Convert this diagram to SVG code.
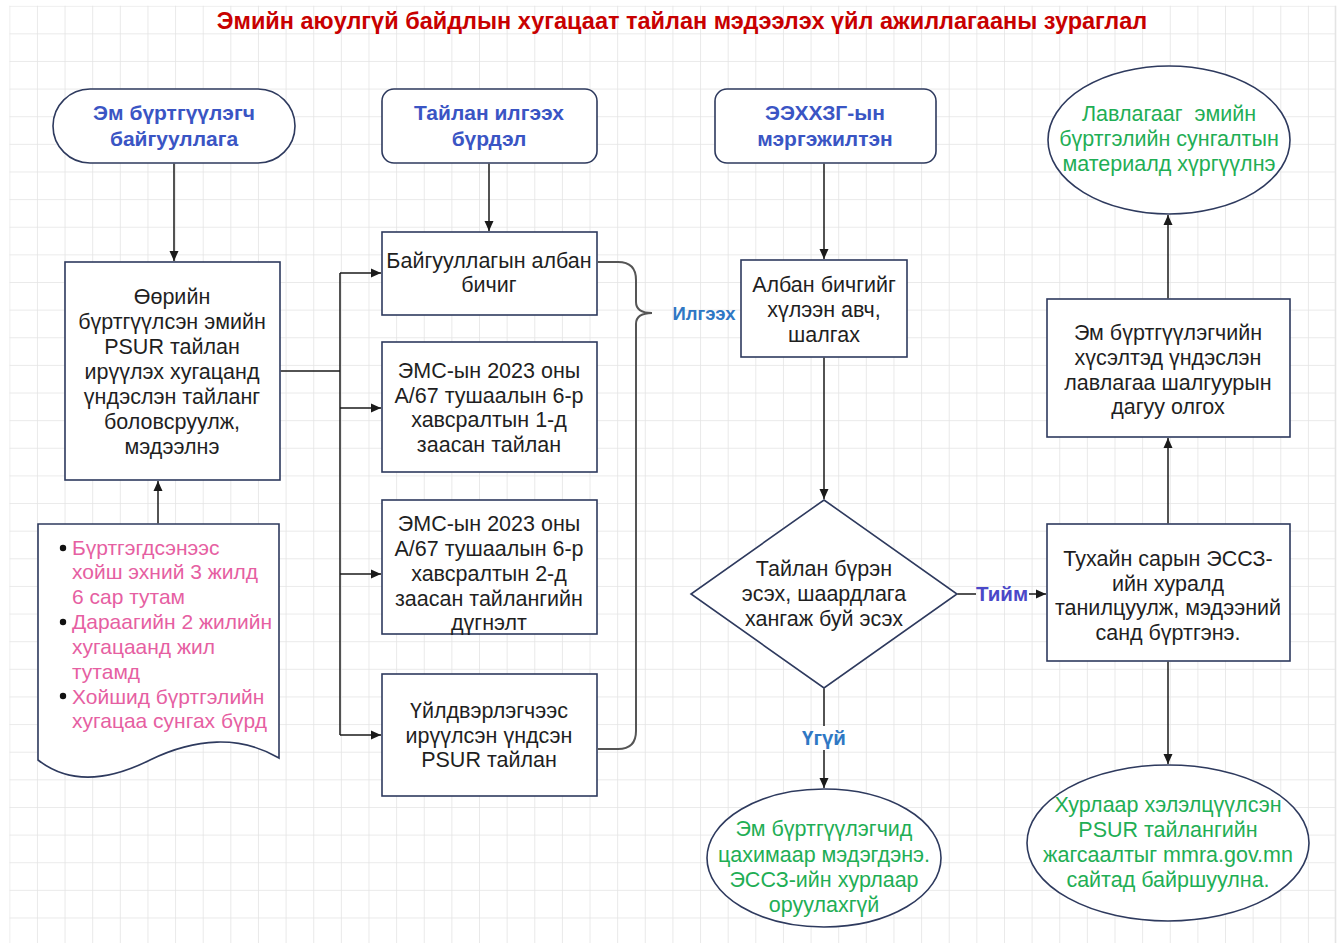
<svg xmlns="http://www.w3.org/2000/svg" width="1340" height="943" viewBox="0 0 1340 943">
<defs>
<pattern id="grid" x="9.3" y="5.7" width="27.63" height="27.63" patternUnits="userSpaceOnUse">
<path d="M0,0 H27.63 M0,0 V27.63" fill="none" stroke="#e4e4e4" stroke-width="1.6"/>
</pattern>
<marker id="arr" viewBox="0 0 10 10" refX="10" refY="5" markerWidth="10" markerHeight="10" markerUnits="userSpaceOnUse" orient="auto">
<path d="M0,0.5 L10,5 L0,9.5 Z" fill="#1a1a1a"/>
</marker>
<style>
.node{fill:#fff;stroke:#2e3a5e;stroke-width:1.6}
.hdr{font-family:"Liberation Sans",Arial,sans-serif;font-size:21px;font-weight:bold;fill:#3a55c4;text-anchor:middle}
.txt{font-family:"Liberation Sans",Arial,sans-serif;font-size:21.5px;fill:#1f1f1f;text-anchor:middle}
.grn{font-family:"Liberation Sans",Arial,sans-serif;font-size:21.5px;fill:#1fae55;text-anchor:middle}
.pnk{font-family:"Liberation Sans",Arial,sans-serif;font-size:21px;fill:#e65fa2}
.lbl{font-family:"Liberation Sans",Arial,sans-serif;font-size:20.5px;font-weight:bold;text-anchor:middle}
.conn{fill:none;stroke:#1a1a1a;stroke-width:1.5}
</style>
</defs>
<rect width="1340" height="943" fill="#fff"/>
<rect x="9.3" y="5.7" width="1326" height="937.3" fill="url(#grid)"/>
<path d="M1335.5,5.7 V943" stroke="#e4e4e4" stroke-width="1.6"/>

<text x="682" y="29" font-family="Liberation Sans,Arial,sans-serif" font-size="23.5" font-weight="bold" fill="#c80000" text-anchor="middle">Эмийн аюулгүй байдлын хугацаат тайлан мэдээлэх үйл ажиллагааны зураглал</text>

<g id="n-registrant">
<rect class="node" x="53" y="89" width="242" height="74" rx="37"/>
<text class="hdr" x="174" y="120">Эм бүртгүүлэгч</text>
<text class="hdr" x="174" y="146">байгууллага</text>
</g>
<g id="n-sender">
<rect class="node" x="382" y="89" width="215" height="74" rx="12"/>
<text class="hdr" x="489" y="120">Тайлан илгээх</text>
<text class="hdr" x="489" y="146">бүрдэл</text>
</g>
<g id="n-expert">
<rect class="node" x="715" y="89" width="221" height="74" rx="12"/>
<text class="hdr" x="825" y="120">ЭЭХХЗГ-ын</text>
<text class="hdr" x="825" y="146">мэргэжилтэн</text>
</g>
<g id="n-ref">
<ellipse class="node" cx="1169" cy="140" rx="121" ry="74"/>
<text class="grn" x="1169" y="121" xml:space="preserve">Лавлагааг  эмийн</text>
<text class="grn" x="1169" y="146">бүртгэлийн сунгалтын</text>
<text class="grn" x="1169" y="171">материалд хүргүүлнэ</text>
</g>
<g id="n-prepare">
<rect class="node" x="65" y="262" width="215" height="218"/>
<text class="txt" x="172" y="304">Өөрийн</text>
<text class="txt" x="172" y="329">бүртгүүлсэн эмийн</text>
<text class="txt" x="172" y="354">PSUR тайлан</text>
<text class="txt" x="172" y="379">ирүүлэх хугацанд</text>
<text class="txt" x="172" y="404">үндэслэн тайланг</text>
<text class="txt" x="172" y="429">боловсруулж,</text>
<text class="txt" x="172" y="454">мэдээлнэ</text>
</g>
<g id="n-schedule">
<path class="node" d="M38,524 H279 V758 C240,735 195,738 150,760 C110,780 70,785 38,760 Z"/>
<circle cx="63" cy="548" r="3.2" fill="#111"/>
<circle cx="63" cy="622" r="3.2" fill="#111"/>
<circle cx="63" cy="696" r="3.2" fill="#111"/>
<text class="pnk" x="72" y="555">Бүртгэгдсэнээс</text>
<text class="pnk" x="72" y="579">хойш эхний 3 жилд</text>
<text class="pnk" x="72" y="604">6 сар тутам</text>
<text class="pnk" x="72" y="629">Дараагийн 2 жилийн</text>
<text class="pnk" x="72" y="654">хугацаанд жил</text>
<text class="pnk" x="72" y="679">тутамд</text>
<text class="pnk" x="72" y="704">Хойшид бүртгэлийн</text>
<text class="pnk" x="72" y="728">хугацаа сунгах бүрд</text>
</g>
<g id="n-letter">
<rect class="node" x="382" y="232" width="215" height="83"/>
<text class="txt" x="489" y="268">Байгууллагын албан</text>
<text class="txt" x="489" y="292">бичиг</text>
</g>
<g id="n-annex1">
<rect class="node" x="382" y="342" width="215" height="130"/>
<text class="txt" x="489" y="378">ЭМС-ын 2023 оны</text>
<text class="txt" x="489" y="403">А/67 тушаалын 6-р</text>
<text class="txt" x="489" y="427">хавсралтын 1-д</text>
<text class="txt" x="489" y="452">заасан тайлан</text>
</g>
<g id="n-annex2">
<rect class="node" x="382" y="500" width="215" height="134"/>
<text class="txt" x="489" y="531">ЭМС-ын 2023 оны</text>
<text class="txt" x="489" y="556">А/67 тушаалын 6-р</text>
<text class="txt" x="489" y="581">хавсралтын 2-д</text>
<text class="txt" x="489" y="606">заасан тайлангийн</text>
<text class="txt" x="489" y="630">дүгнэлт</text>
</g>
<g id="n-psur">
<rect class="node" x="382" y="674" width="215" height="122"/>
<text class="txt" x="489" y="718">Үйлдвэрлэгчээс</text>
<text class="txt" x="489" y="743">ирүүлсэн үндсэн</text>
<text class="txt" x="489" y="767">PSUR тайлан</text>
</g>
<g id="n-receive">
<rect class="node" x="741" y="260" width="166" height="97"/>
<text class="txt" x="824" y="292">Албан бичгийг</text>
<text class="txt" x="824" y="317">хүлээн авч,</text>
<text class="txt" x="824" y="342">шалгах</text>
</g>
<g id="n-decision">
<polygon class="node" points="824,500 957,594 824,688 691,594"/>
<text class="txt" x="824" y="576">Тайлан бүрэн</text>
<text class="txt" x="824" y="601">эсэх, шаардлага</text>
<text class="txt" x="824" y="626">хангаж буй эсэх</text>
</g>
<g id="n-notify">
<ellipse class="node" cx="824" cy="858" rx="117" ry="69"/>
<text class="grn" x="824" y="836">Эм бүртгүүлэгчид</text>
<text class="grn" x="824" y="862">цахимаар мэдэгдэнэ.</text>
<text class="grn" x="824" y="887">ЭССЗ-ийн хурлаар</text>
<text class="grn" x="824" y="912">оруулахгүй</text>
</g>
<g id="n-meeting">
<rect class="node" x="1047" y="524" width="243" height="137"/>
<text class="txt" x="1168" y="566">Тухайн сарын ЭССЗ-</text>
<text class="txt" x="1168" y="591">ийн хуралд</text>
<text class="txt" x="1168" y="615">танилцуулж, мэдээний</text>
<text class="txt" x="1168" y="640">санд бүртгэнэ.</text>
</g>
<g id="n-issue">
<rect class="node" x="1047" y="299" width="243" height="138"/>
<text class="txt" x="1168" y="340">Эм бүртгүүлэгчийн</text>
<text class="txt" x="1168" y="365">хүсэлтэд үндэслэн</text>
<text class="txt" x="1168" y="390">лавлагаа шалгуурын</text>
<text class="txt" x="1168" y="414">дагуу олгох</text>
</g>
<g id="n-publish">
<ellipse class="node" cx="1168" cy="843" rx="141" ry="78"/>
<text class="grn" x="1168" y="812">Хурлаар хэлэлцүүлсэн</text>
<text class="grn" x="1168" y="837">PSUR тайлангийн</text>
<text class="grn" x="1168" y="862">жагсаалтыг mmra.gov.mn</text>
<text class="grn" x="1168" y="887">сайтад байршуулна.</text>
</g>

<g id="connectors">
<path class="conn" d="M174,163.8 V261" marker-end="url(#arr)"/>
<path class="conn" d="M158,523.2 V481" marker-end="url(#arr)"/>
<path class="conn" d="M280.8,371 H340"/>
<path class="conn" d="M340,273 V735"/>
<path class="conn" d="M340,273 H381" marker-end="url(#arr)"/>
<path class="conn" d="M340,408 H381" marker-end="url(#arr)"/>
<path class="conn" d="M340,574 H381" marker-end="url(#arr)"/>
<path class="conn" d="M340,735 H381" marker-end="url(#arr)"/>
<path class="conn" d="M489,163.8 V231" marker-end="url(#arr)"/>
<path d="M597.8,262 H618 Q636,262 636,280 V302 Q636,313 652,313 Q636,313 636,324 V731 Q636,749 618,749 H597.8" fill="none" stroke="#555" stroke-width="2"/>
<path class="conn" d="M824,163.8 V259" marker-end="url(#arr)"/>
<path class="conn" d="M824,357.8 V499" marker-end="url(#arr)"/>
<path class="conn" d="M957.5,594 H976"/>
<path class="conn" d="M1029,594 H1046" marker-end="url(#arr)"/>
<path class="conn" d="M824,688.5 V726"/>
<path class="conn" d="M824,750 V788" marker-end="url(#arr)"/>
<path class="conn" d="M1168,523.2 V438" marker-end="url(#arr)"/>
<path class="conn" d="M1168,298.2 V215" marker-end="url(#arr)"/>
<path class="conn" d="M1168,661.8 V764" marker-end="url(#arr)"/>
<text x="704" y="320" class="lbl" style="font-size:18.5px" fill="#2f78c4">Илгээх</text>
<text x="1002" y="601" class="lbl" fill="#4a48c8">Тийм</text>
<text x="824" y="745" class="lbl" fill="#2f78c4">Үгүй</text>
</g>
</svg>
